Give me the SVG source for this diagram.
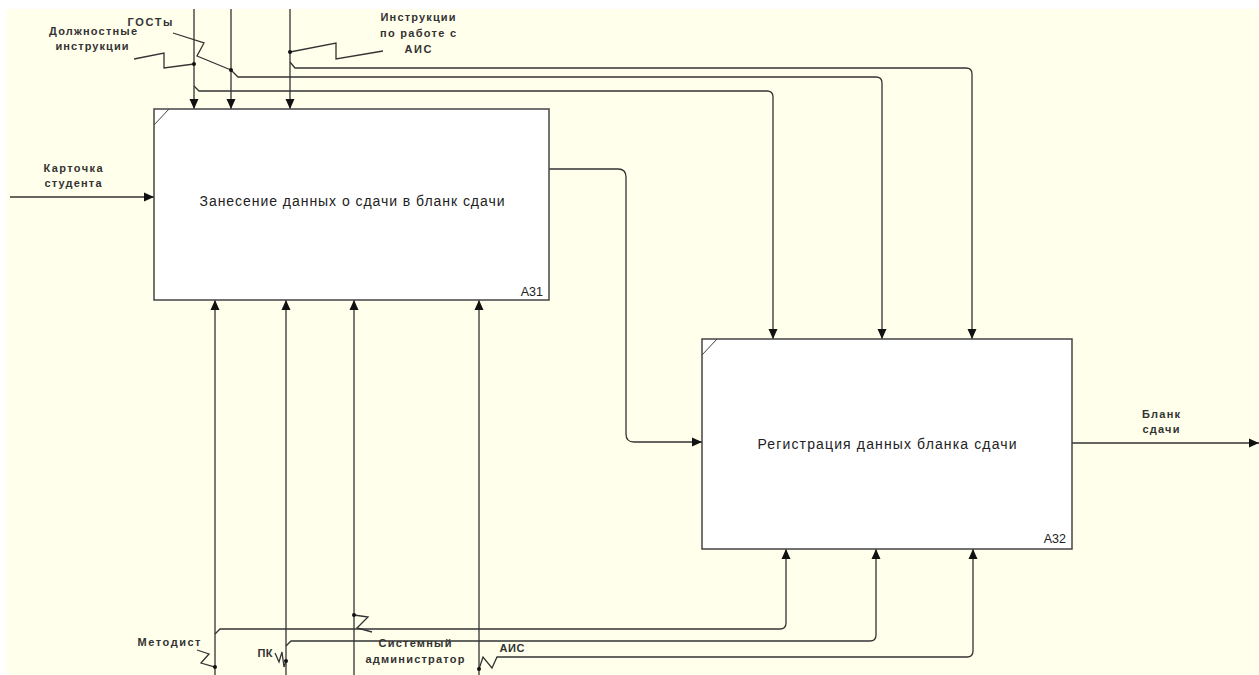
<svg xmlns="http://www.w3.org/2000/svg" width="1259" height="675" viewBox="0 0 1259 675">
<defs>
<marker id="ah" markerWidth="10" markerHeight="11" refX="10" refY="5.5" orient="auto" markerUnits="userSpaceOnUse" viewBox="0 0 10 11">
<path d="M0,1 L10,5.5 L0,10 Z" fill="#111"/>
</marker>
<style>
.ln{fill:none;stroke:#333;stroke-width:1.3}
.arr{fill:none;stroke:#333;stroke-width:1.3;marker-end:url(#ah)}
.dot{fill:#111}
.box{fill:#fff;stroke:#444;stroke-width:1.5}
.crn{fill:none;stroke:#444;stroke-width:1}
.lbl{font-family:"Liberation Sans",Arial,sans-serif;font-size:11px;font-weight:bold;fill:#333;text-anchor:middle}
.ttl{font-family:"Liberation Sans",Arial,sans-serif;font-size:14px;fill:#222;text-anchor:middle}
.num{font-family:"Liberation Sans",Arial,sans-serif;font-size:12.5px;fill:#222;text-anchor:end}
</style>
</defs>
<rect x="0" y="0" width="1259" height="675" fill="#fff"/>
<rect x="7" y="9" width="1252" height="666" fill="#ffffec"/>

<g id="connectors">
<path class="arr" d="M194,9 V109"/>
<path class="arr" d="M231,9 V109"/>
<path class="arr" d="M290,9 V109"/>
<path class="arr" d="M194,86 L199,91 H767 Q773,91 773,97 V339"/>
<path class="arr" d="M231,70 L238,77 H876 Q882,77 882,83 V339"/>
<path class="arr" d="M290,62 L295,68 H966 Q972,68 972,74 V339"/>
<path class="arr" d="M10,197 H154"/>
<path class="arr" d="M549,169 H618 Q626,169 626,177 V434 Q626,442 634,442 H702"/>
<path class="arr" d="M1072,443 H1259"/>
<path class="arr" d="M215,675 V300"/>
<path class="arr" d="M286,675 V300"/>
<path class="arr" d="M354,675 V300"/>
<path class="arr" d="M479,675 V300"/>
<path class="arr" d="M215,634 L220,629 H780 Q786,629 786,623 V549"/>
<path class="arr" d="M286,646 L291,641 H870 Q876,641 876,635 V549"/>
<path class="arr" d="M479,669 L483,657 L492,668 L497,657 H967 Q973,657 973,651 V549"/>
<path class="ln" d="M134,59 L164,53 L164,68 L194,64"/>
<path class="ln" d="M173,33 L204,43 L197,56 L231,70"/>
<path class="ln" d="M290,52 L336,43 L336,59 L383,51"/>
<path class="ln" d="M197,650 L209,654 L201,663 L215,667"/>
<path class="ln" d="M275,653 L279,662 L282,652 L284,667 L286,661"/>
<path class="ln" d="M354,615 L368,617 L357,628 L372,632"/>
<circle class="dot" cx="194" cy="64" r="2"/>
<circle class="dot" cx="231" cy="70" r="2"/>
<circle class="dot" cx="290" cy="52" r="2"/>
<circle class="dot" cx="215" cy="667" r="2"/>
<circle class="dot" cx="286" cy="661" r="2"/>
<circle class="dot" cx="354" cy="615" r="2"/>
<circle class="dot" cx="479" cy="669" r="2"/>
</g>

<g id="A31">
<rect class="box" x="154" y="109" width="395" height="191"/>
<path class="crn" d="M154,125 L169,109"/>
<text class="ttl" x="352" y="206" textLength="305" lengthAdjust="spacing">Занесение данных о сдачи в бланк сдачи</text>
<text class="num" x="543" y="296">A31</text>
</g>

<g id="A32">
<rect class="box" x="702" y="339" width="370" height="210"/>
<path class="crn" d="M702,355 L717,339"/>
<text class="ttl" x="887" y="449" textLength="259" lengthAdjust="spacing">Регистрация данных бланка сдачи</text>
<text class="num" x="1066" y="543">A32</text>
</g>

<g id="labels">
<text class="lbl" x="93" y="35" textLength="88" lengthAdjust="spacing">Должностные</text>
<text class="lbl" x="92" y="50" textLength="73" lengthAdjust="spacing">инструкции</text>
<text class="lbl" x="150" y="26" textLength="45" lengthAdjust="spacing">ГОСТы</text>
<text class="lbl" x="418" y="21" textLength="75" lengthAdjust="spacing">Инструкции</text>
<text class="lbl" x="418" y="37" textLength="76" lengthAdjust="spacing">по работе с</text>
<text class="lbl" x="418" y="53" textLength="27" lengthAdjust="spacing">АИС</text>
<text class="lbl" x="73" y="172" textLength="59" lengthAdjust="spacing">Карточка</text>
<text class="lbl" x="73" y="187" textLength="57" lengthAdjust="spacing">студента</text>
<text class="lbl" x="1161" y="418" textLength="38" lengthAdjust="spacing">Бланк</text>
<text class="lbl" x="1161" y="433" textLength="37" lengthAdjust="spacing">сдачи</text>
<text class="lbl" x="169" y="646" textLength="63" lengthAdjust="spacing">Методист</text>
<text class="lbl" x="265" y="657" textLength="15" lengthAdjust="spacing">ПК</text>
<text class="lbl" x="415" y="647" textLength="73" lengthAdjust="spacing">Системный</text>
<text class="lbl" x="415" y="663" textLength="99" lengthAdjust="spacing">администратор</text>
<text class="lbl" x="512" y="652" textLength="25" lengthAdjust="spacing">АИС</text>
</g>
</svg>
